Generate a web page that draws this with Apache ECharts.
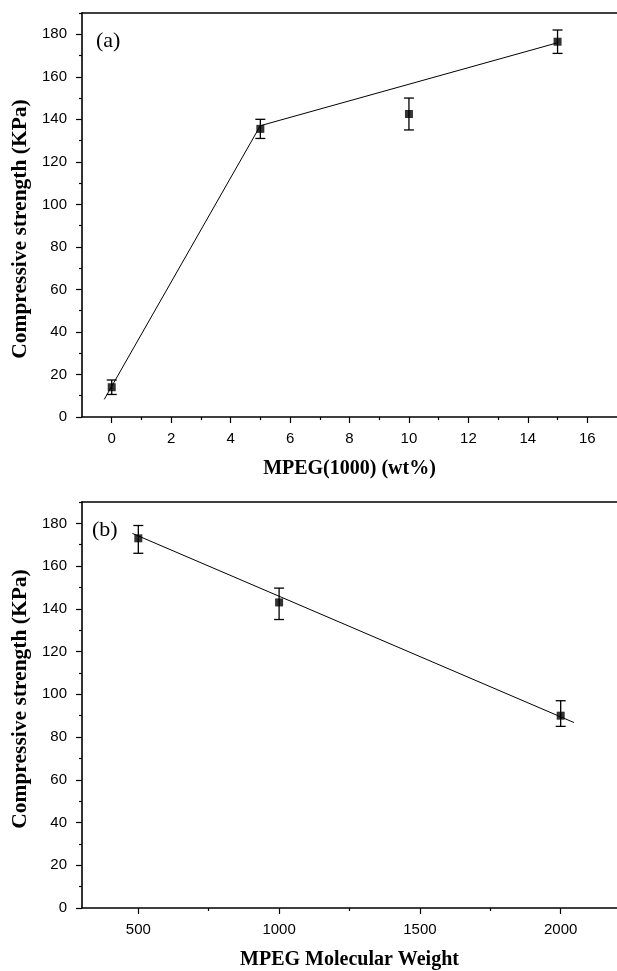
<!DOCTYPE html>
<html>
<head>
<meta charset="utf-8">
<script src="https://cdn.jsdelivr.net/npm/echarts@6/dist/echarts.min.js"></script>
<style>html,body{margin:0;padding:0;background:#fff}#c{width:617px;height:971px}</style>
</head>
<body>
<div id="c"></div>
<script>
// ---- Panel (a) data ----
const aX = [0, 5, 10, 15];
const aY = [14, 135.5, 142.5, 176.5];
const aErr = [3.4, 4.5, 7.5, 5.5];
const aLineX = [-0.25, 5, 15];
const aLineY = [8.3, 137, 176];
const aMajorX = [0, 2, 4, 6, 8, 10, 12, 14, 16];
const aMinorX = [1, 3, 5, 7, 9, 11, 13, 15];

// ---- Panel (b) data ----
const bX = [500, 1000, 2000];
const bY = [173, 143, 90];
const bErrLow = [166, 135, 85];
const bErrHigh = [179, 149.7, 97];
const bLineX = [479, 2047];
const bLineY = [175.3, 86.8];
const bMajorX = [500, 1000, 1500, 2000];
const bMinorX = [750, 1250, 1750];

// ---- shared y ticks ----
const yMajor = [0, 20, 40, 60, 80, 100, 120, 140, 160, 180];
const yMinor = [10, 30, 50, 70, 90, 110, 130, 150, 170, 190];

const serif = 'Liberation Serif';
const sans = 'Liberation Sans';

function zip(xs, ys) { return xs.map((x, i) => [x, ys[i]]); }
const plain = v => String(v);

const chart = echarts.init(document.getElementById('c'), null, {renderer: 'canvas'});

function xMajorAxis(grid, min, max, ticks, name) {
  return {
    type: 'value', gridIndex: grid, position: 'bottom', min: min, max: max,
    splitLine: {show: false},
    axisLine: {show: true, onZero: false, lineStyle: {color: '#000', width: 1.6}},
    axisTick: {show: true, inside: false, length: 6, customValues: ticks, lineStyle: {color: '#000', width: 1.2}},
    axisLabel: {show: true, customValues: ticks, formatter: plain, margin: 14, color: '#000', fontFamily: sans, fontSize: 15},
    name: name, nameLocation: 'middle', nameGap: 42,
    nameTextStyle: {fontFamily: serif, fontWeight: 'bold', fontSize: 20, color: '#000'}
  };
}
function xMinorAxis(grid, min, max, ticks) {
  return {
    type: 'value', gridIndex: grid, position: 'bottom', min: min, max: max,
    splitLine: {show: false},
    axisLine: {show: false, onZero: false},
    axisTick: {show: true, length: 3, customValues: ticks, lineStyle: {color: '#000', width: 1.2}},
    axisLabel: {show: false}
  };
}
function xTopAxis(grid, min, max) {
  return {
    type: 'value', gridIndex: grid, position: 'top', min: min, max: max,
    splitLine: {show: false},
    axisLine: {show: true, onZero: false, lineStyle: {color: '#000', width: 1.6}},
    axisTick: {show: false},
    axisLabel: {show: false}
  };
}
function yMajorAxis(grid, name, pad) {
  return {
    type: 'value', gridIndex: grid, position: 'left', min: 0, max: 190, offset: 0,
    splitLine: {show: false},
    axisLine: {show: true, onZero: false, lineStyle: {color: '#000', width: 1.6}},
    axisTick: {show: true, length: 6, customValues: yMajor, lineStyle: {color: '#000', width: 1.2}},
    axisLabel: {show: true, customValues: yMajor, formatter: plain, margin: 15, color: '#000', fontFamily: sans, fontSize: 15},
    name: name, nameLocation: 'middle', nameGap: 50, nameRotate: 90,
    nameTextStyle: {fontFamily: serif, fontWeight: 'bold', fontSize: 21.5, color: '#000', padding: pad}
  };
}
function yMinorAxis(grid) {
  return {
    type: 'value', gridIndex: grid, position: 'left', min: 0, max: 190, offset: 0,
    splitLine: {show: false},
    axisLine: {show: false, onZero: false},
    axisTick: {show: true, length: 3, customValues: yMinor, lineStyle: {color: '#000', width: 1.2}},
    axisLabel: {show: false}
  };
}

function errorSeries(xi, yi, data) {
  return {
    type: 'custom', xAxisIndex: xi, yAxisIndex: yi, data: data, z: 3, silent: true,
    renderItem: function (params, api) {
      const x = api.value(0);
      const lo = api.coord([x, api.value(1)]);
      const hi = api.coord([x, api.value(2)]);
      const w = 5;
      const st = {stroke: '#000', lineWidth: 1.3};
      return {type: 'group', children: [
        {type: 'line', shape: {x1: lo[0], y1: lo[1], x2: hi[0], y2: hi[1]}, style: st},
        {type: 'line', shape: {x1: lo[0] - w, y1: lo[1], x2: lo[0] + w, y2: lo[1]}, style: st},
        {type: 'line', shape: {x1: hi[0] - w, y1: hi[1], x2: hi[0] + w, y2: hi[1]}, style: st}
      ]};
    }
  };
}

const aErrData = aX.map((x, i) => [x, aY[i] - aErr[i], aY[i] + aErr[i]]);
const bErrData = bX.map((x, i) => [x, bErrLow[i], bErrHigh[i]]);

chart.setOption({
  animation: false,
  backgroundColor: '#fff',
  grid: [
    {left: 82, top: 13, width: 537, height: 404},
    {left: 82, top: 502, width: 537, height: 406}
  ],
  xAxis: [
    xMajorAxis(0, -1, 17, aMajorX, 'MPEG(1000) (wt%)'),
    xMinorAxis(0, -1, 17, aMinorX),
    xTopAxis(0, -1, 17),
    xMajorAxis(1, 300, 2200, bMajorX, 'MPEG Molecular Weight'),
    xMinorAxis(1, 300, 2200, bMinorX),
    xTopAxis(1, 300, 2200)
  ],
  yAxis: [
    yMajorAxis(0, 'Compressive strength (KPa)', [0, 28, 0, 0]),
    yMinorAxis(0),
    yMajorAxis(1, 'Compressive strength (KPa)', [0, 0, 0, 12]),
    yMinorAxis(1)
  ],
  graphic: [
    {type: 'text', left: 96, top: 30, style: {text: '(a)', font: '22px "Liberation Serif"', fill: '#000'}},
    {type: 'text', left: 92, top: 519, style: {text: '(b)', font: '22px "Liberation Serif"', fill: '#000'}}
  ],
  series: [
    {type: 'line', xAxisIndex: 0, yAxisIndex: 0, data: zip(aLineX, aLineY), symbol: 'none', lineStyle: {color: '#000', width: 1}, z: 2},
    errorSeries(0, 0, aErrData),
    {type: 'scatter', xAxisIndex: 0, yAxisIndex: 0, data: zip(aX, aY), symbol: 'rect', symbolSize: 8, itemStyle: {color: '#000'}, z: 4},
    {type: 'line', xAxisIndex: 3, yAxisIndex: 2, data: zip(bLineX, bLineY), symbol: 'none', lineStyle: {color: '#000', width: 1}, z: 2},
    errorSeries(3, 2, bErrData),
    {type: 'scatter', xAxisIndex: 3, yAxisIndex: 2, data: zip(bX, bY), symbol: 'rect', symbolSize: 8, itemStyle: {color: '#000'}, z: 4}
  ]
});
</script>
</body>
</html>
